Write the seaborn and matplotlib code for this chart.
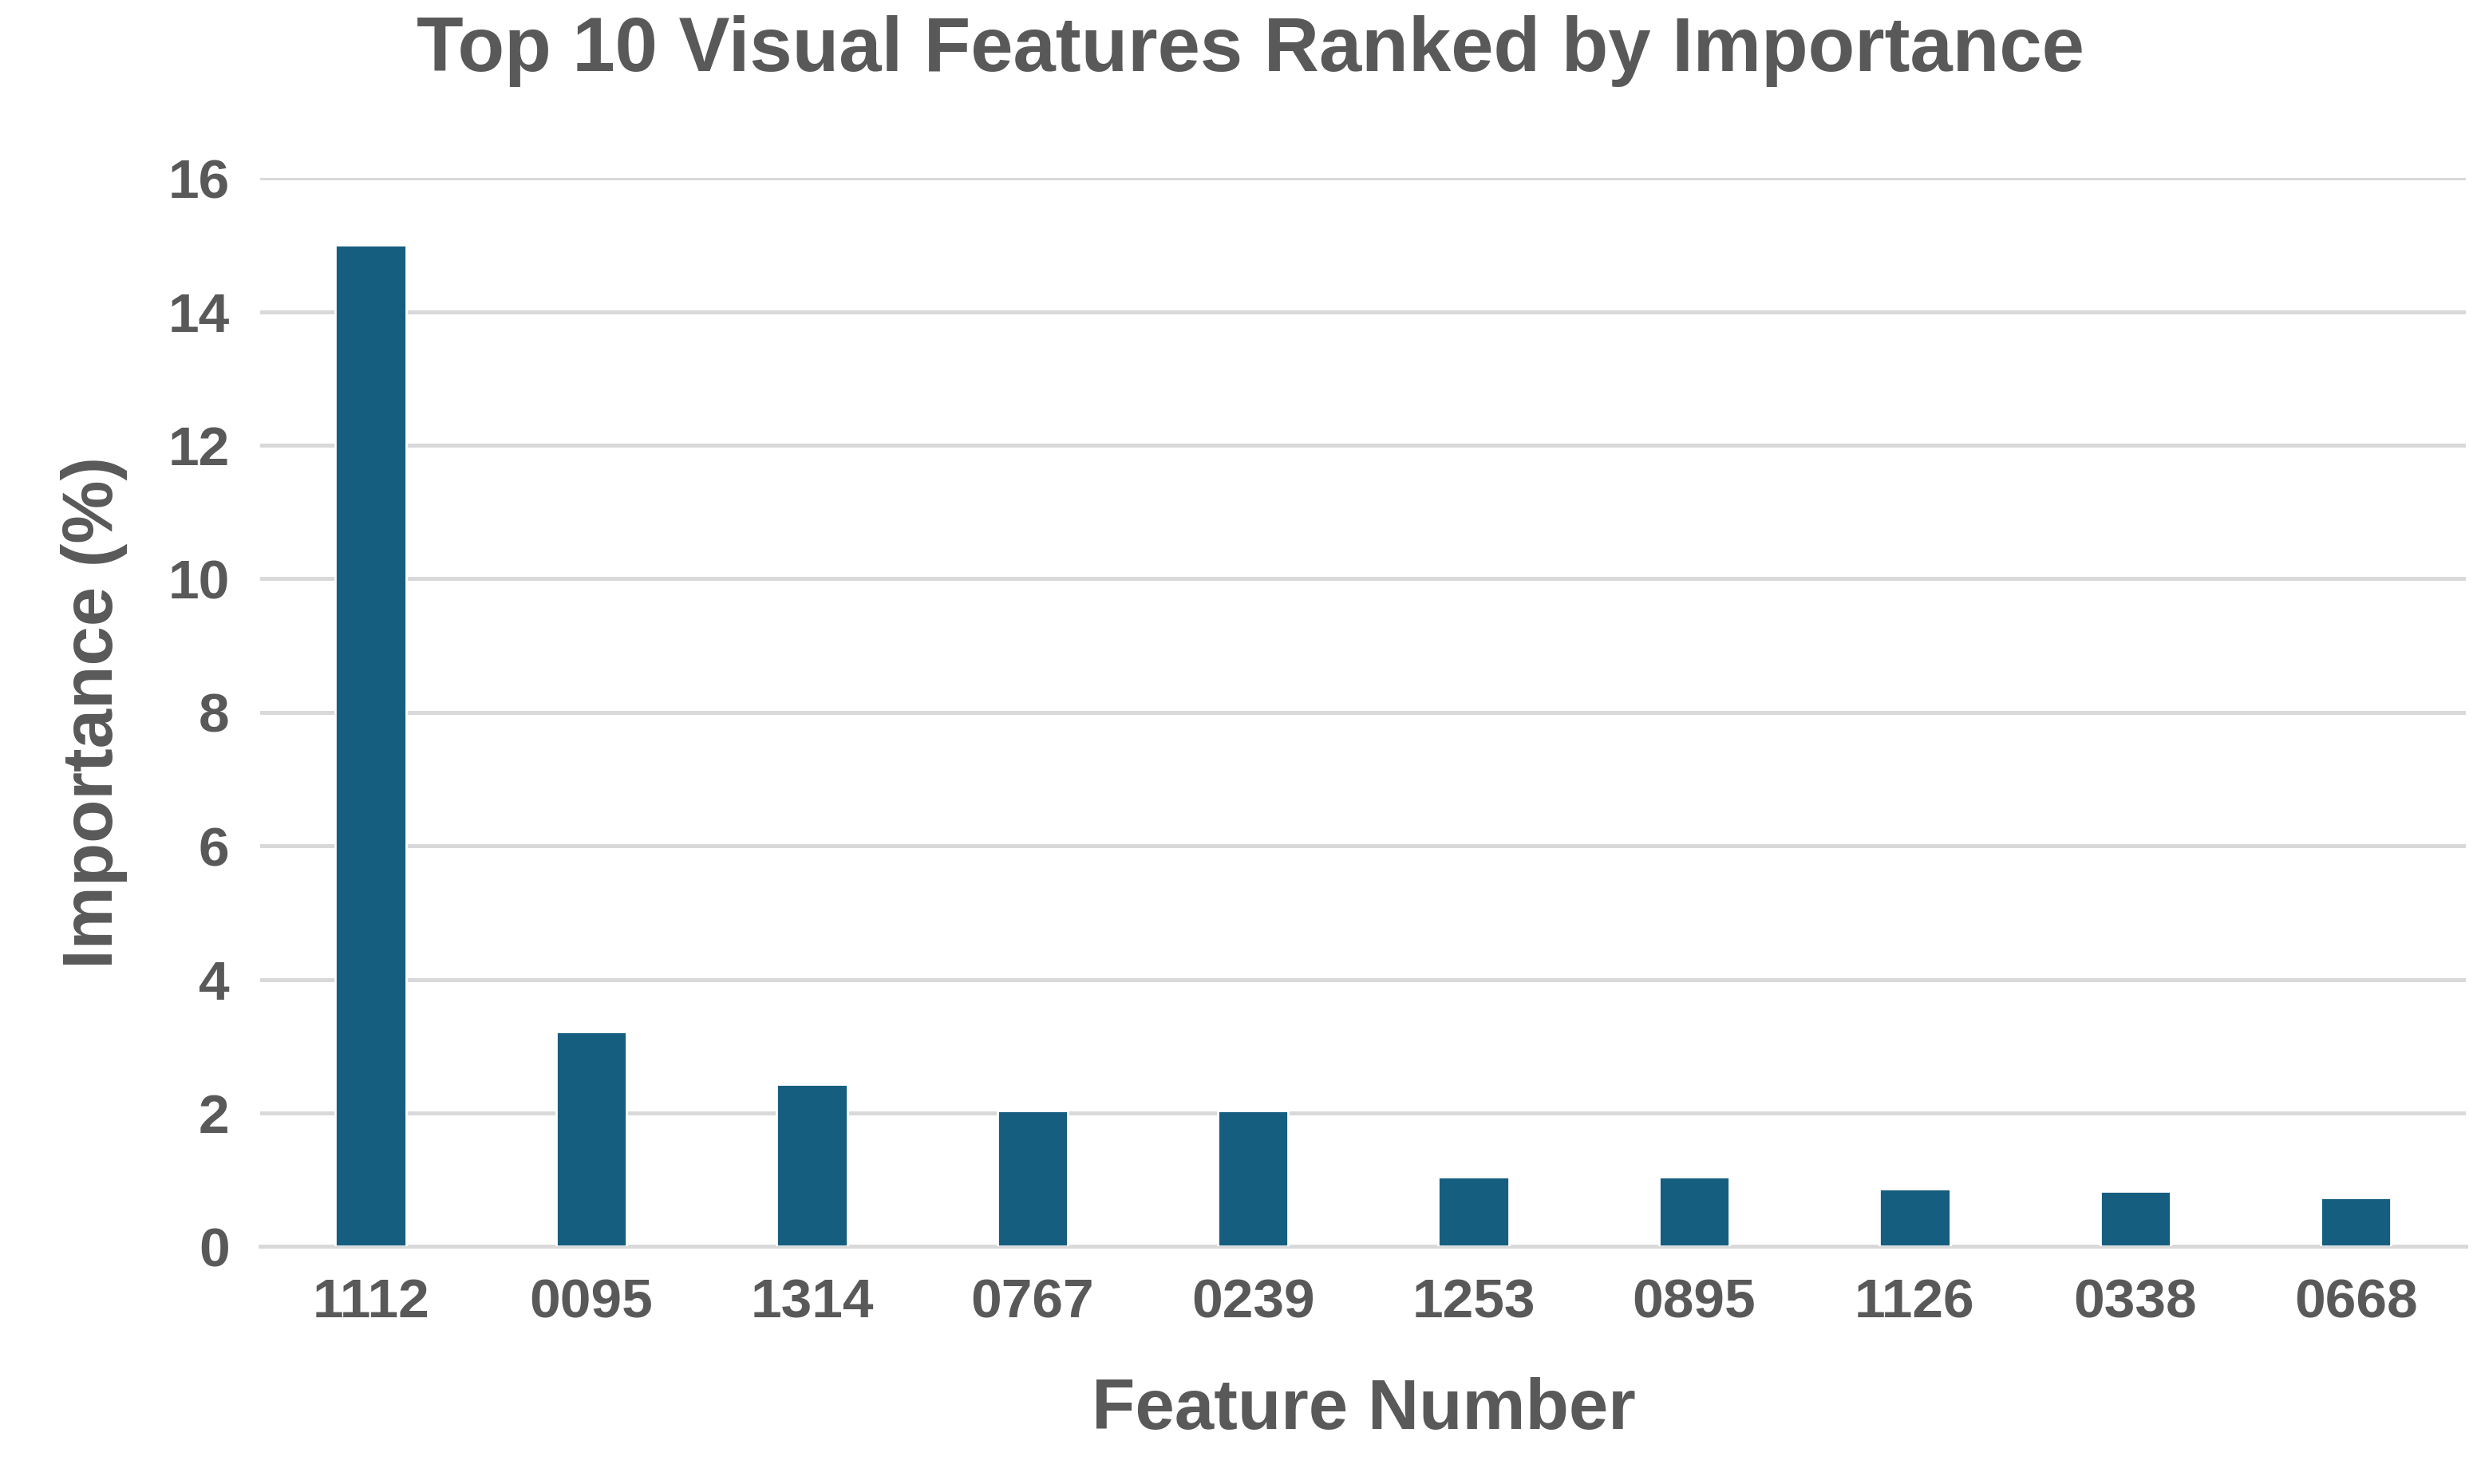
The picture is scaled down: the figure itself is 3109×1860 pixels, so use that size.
import pandas as pd
import matplotlib
matplotlib.use("Agg")
import matplotlib.pyplot as plt
import seaborn as sns

# === Data ===
features = ["1112", "0095", "1314", "0767", "0239", "1253", "0895", "1126", "0338", "0668"]
importance = [15.0, 3.22, 2.43, 2.04, 2.04, 1.04, 1.04, 0.87, 0.83, 0.73]

df = pd.DataFrame({"feature": features, "importance": importance})

sns.set_style("white")
plt.rcParams["font.family"] = ["Liberation Sans", "DejaVu Sans"]
gray = "#595959"

fig = plt.figure(figsize=(15.545, 9.3), dpi=200)
ax = fig.add_axes([0.105, 0.16, 0.889, 0.72])

sns.barplot(data=df, x="feature", y="importance", color="#165E80",
            width=0.32, saturation=1, ax=ax, zorder=3)

ax.set_xlim(-0.5, 9.5)
ax.set_ylim(0, 16)
ax.set_yticks(range(0, 17, 2))
ax.grid(axis="y", color="#D9D9D9", linewidth=1.8, zorder=0)
for s in ["top", "right", "left"]:
    ax.spines[s].set_visible(False)
ax.spines["bottom"].set_color("#D9D9D9")
ax.spines["bottom"].set_linewidth(1.8)
ax.tick_params(axis="both", length=0, labelsize=25, labelcolor=gray, pad=14)
for lab in ax.get_xticklabels() + ax.get_yticklabels():
    lab.set_fontweight("bold")

ax.set_xlabel("Feature Number", fontsize=32, fontweight="bold", color=gray, labelpad=22)
ax.set_ylabel("Importance (%)", fontsize=32, fontweight="bold", color=gray, labelpad=18)
fig.suptitle("Top 10 Visual Features Ranked by Importance", fontsize=34.5,
             fontweight="bold", color=gray, x=0.504, y=0.99)

fig.savefig("out.png", dpi=200)
